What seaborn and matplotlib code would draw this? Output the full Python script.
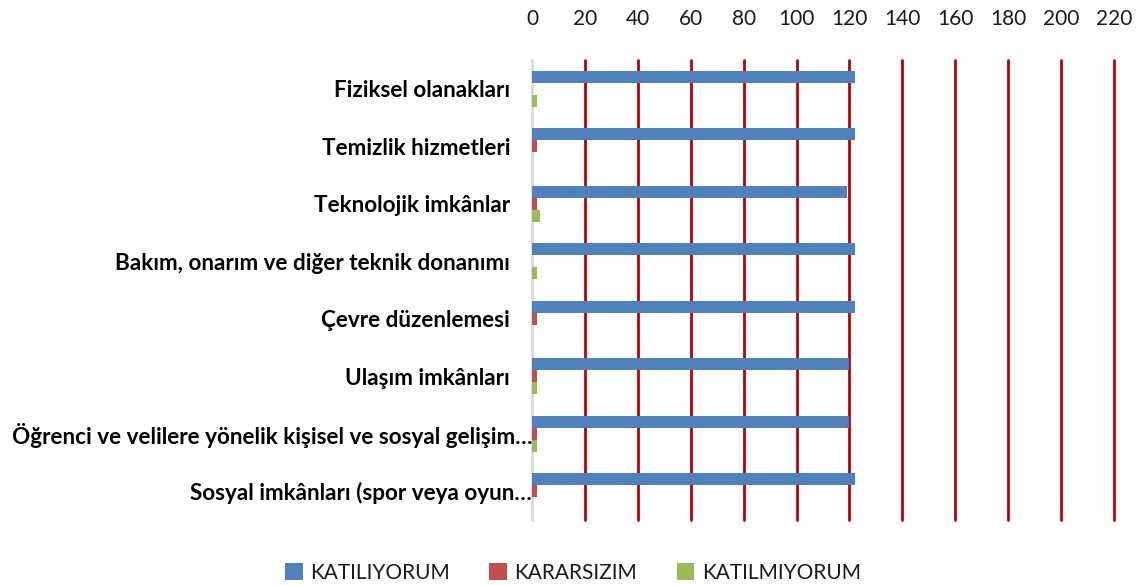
import matplotlib
matplotlib.use("Agg")
import matplotlib.pyplot as plt
import seaborn as sns
import pandas as pd

categories = [
    "Fiziksel olanakları",
    "Temizlik hizmetleri",
    "Teknolojik imkânlar",
    "Bakım, onarım ve diğer teknik donanımı",
    "Çevre düzenlemesi",
    "Ulaşım imkânları",
    "Öğrenci ve velilere yönelik kişisel ve sosyal gelişim…",
    "Sosyal imkânları (spor veya oyun…",
]
tick_labels = [
    "Fiziksel olanakları    ",
    "Temizlik hizmetleri    ",
    "Teknolojik imkânlar    ",
    "Bakım, onarım ve diğer teknik donanımı    ",
    "Çevre düzenlemesi    ",
    "Ulaşım imkânları    ",
    "Öğrenci ve velilere yönelik kişisel ve sosyal gelişim…",
    "Sosyal imkânları (spor veya oyun…",
]
series_names = ["KATILIYORUM", "KARARSIZIM", "KATILMIYORUM"]
katiliyorum = [122, 122, 119, 122, 122, 120, 120, 122]
kararsizim = [0, 2, 2, 0, 2, 2, 2, 2]
katilmiyorum = [2, 0, 3, 2, 0, 2, 2, 0]
x_ticks = [0, 20, 40, 60, 80, 100, 120, 140, 160, 180, 200, 220]

colors = ["#4F81BD", "#C0504D", "#9BBB59"]

rows = []
for vals, name in zip([katiliyorum, kararsizim, katilmiyorum], series_names):
    for c, v in zip(categories, vals):
        rows.append({"Kategori": c, "Değer": v, "Seri": name})
df = pd.DataFrame(rows)

sns.set_theme(style="white")
plt.rcParams["font.family"] = ["Lato", "DejaVu Sans"]

fig = plt.figure(figsize=(11.39, 5.85), dpi=100)
ax = fig.add_axes([532 / 1139, 1 - 520 / 585, (1114 - 532) / 1139, 460 / 585])

sns.barplot(data=df, x="Değer", y="Kategori", hue="Seri", order=categories,
            hue_order=series_names, palette=colors, orient="h", width=0.63,
            saturation=1, linewidth=0, ax=ax, legend=True)

ax.set_xlim(0, 220)
ax.set_ylim(7.5, -0.5)
ax.set_xticks(x_ticks)
ax.xaxis.tick_top()
ax.tick_params(axis="x", length=0, pad=22, labelsize=15, labelcolor="#1a1a1a")
ax.tick_params(axis="y", length=0, pad=0, labelsize=16.2)
ax.set_yticks(range(len(categories)))
ax.set_yticklabels(tick_labels, fontweight="bold", color="#000000")
ax.set_xlabel("")
ax.set_ylabel("")
for s in ax.spines.values():
    s.set_visible(False)

for t in x_ticks[1:]:
    ax.axvline(t, color="#C00000", linewidth=2, zorder=0, clip_on=False)
ax.axvline(0, color="#D9D9D9", linewidth=2, zorder=0, clip_on=False)

handles, labels = ax.get_legend_handles_labels()
ax.get_legend().remove()
leg = fig.legend(handles, labels, loc="center", bbox_to_anchor=(0.503, 1 - 573 / 585),
                 ncol=3, frameon=False, fontsize=15, handlelength=0.85,
                 handleheight=0.85, columnspacing=1.9, handletextpad=0.35)
for txt in leg.get_texts():
    txt.set_color("#1a1a1a")

fig.savefig("out.png", dpi=100)
